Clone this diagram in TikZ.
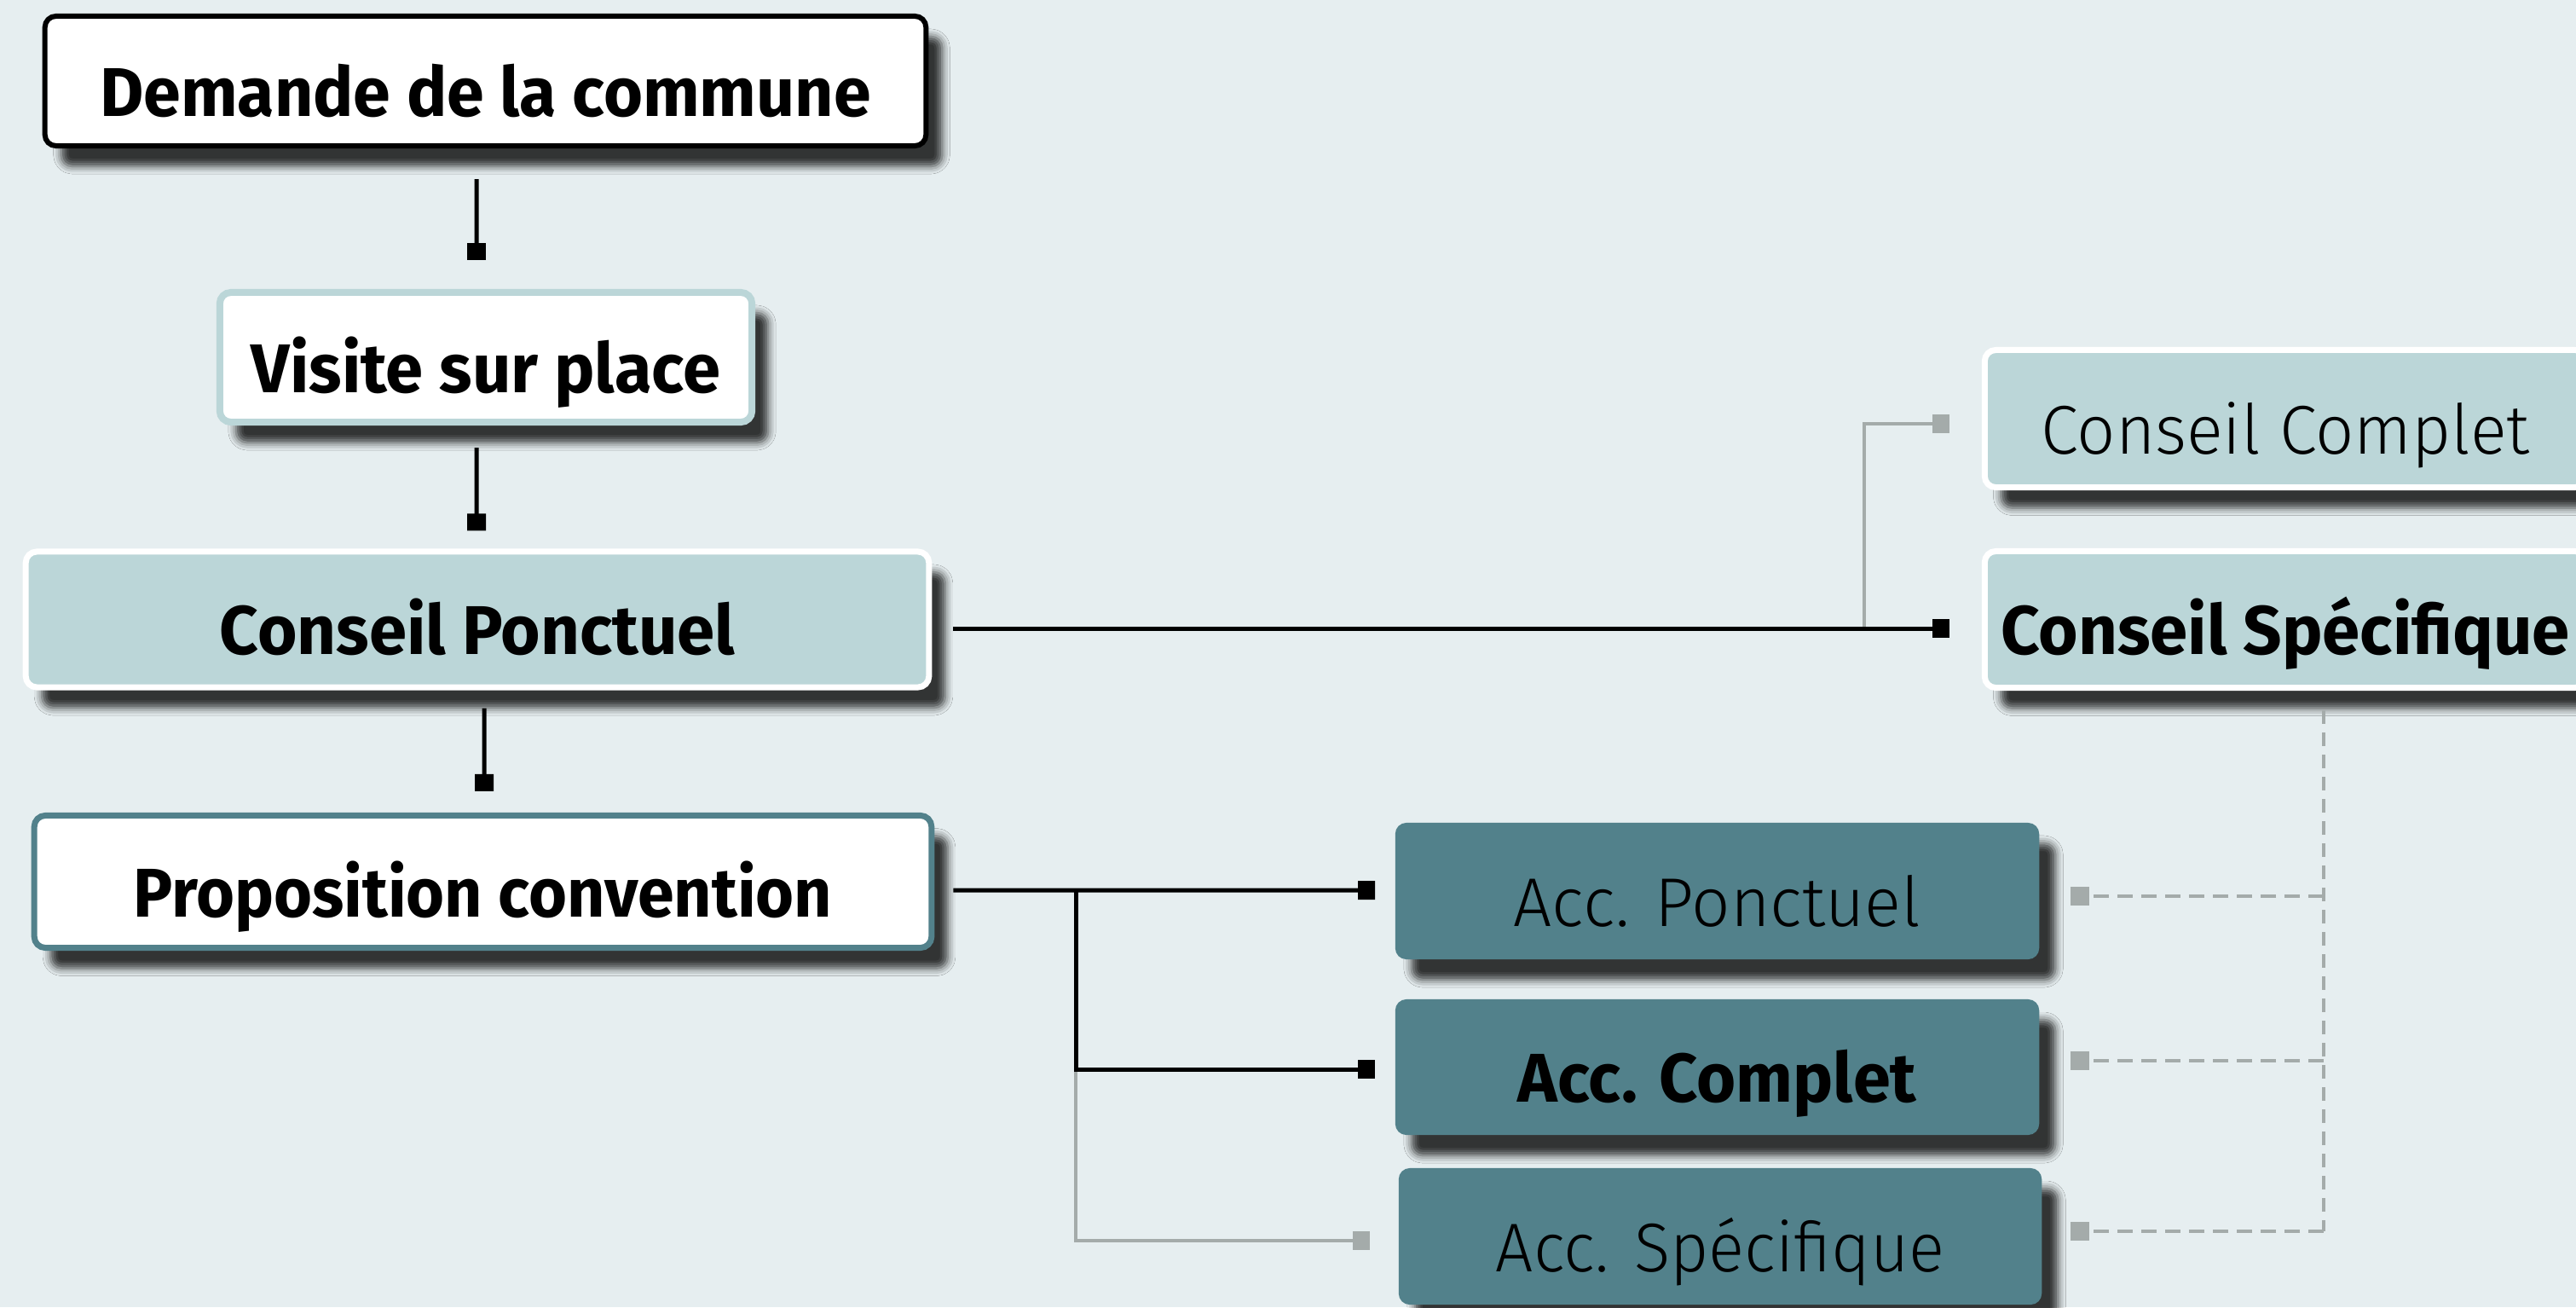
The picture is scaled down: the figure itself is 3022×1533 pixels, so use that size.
\documentclass[tikz,border=0pt]{standalone}
\usepackage{fontspec}
\usepackage{graphicx}
\setmainfont{Fira Sans}
\newfontfamily\thinfont{Fira Sans Light}
\usetikzlibrary{arrows.meta,shadows.blur}
\definecolor{bg}{HTML}{E6EEF0}
\definecolor{lteal}{HTML}{BBD6D8}
\definecolor{dteal}{HTML}{52818B}
\definecolor{lgrey}{HTML}{A4ABAA}
\newcommand{\fitw}[2]{\resizebox{#1}{\height}{#2}}
\begin{document}
\begin{tikzpicture}[x=0.01cm,y=-0.01cm,
  box/.style={rectangle, rounded corners=0.13cm, inner sep=0pt,
    text height=0.82cm, text depth=0cm,
    font=\fontsize{23pt}{27pt}\selectfont,
    blur shadow={shadow xshift=0.19cm, shadow yshift=-0.24cm, shadow blur radius=0.09cm, shadow opacity=78}},
  boldtxt/.style={font=\fontsize{23pt}{27pt}\selectfont\bfseries},
  thintxt/.style={font=\fontsize{23pt}{27pt}\selectfont\thinfont},
  conn/.style={line width=0.05cm, -{Square[length=0.2cm,width=0.22cm]}},
  gconn/.style={lgrey, line width=0.04cm, -{Square[length=0.2cm,width=0.22cm]}},
  dconn/.style={lgrey, line width=0.045cm, dash pattern=on 0.18cm off 0.1cm, -{Square[length=0.22cm,width=0.22cm]}},
  dline/.style={lgrey, line width=0.04cm, dash pattern=on 0.16cm off 0.1cm}
]
\useasboundingbox (0,0) rectangle (3022,1533);
\fill[bg] (0,0) rectangle (3022,1533);

% left column
\node[box, boldtxt, draw=black, line width=0.06cm, fill=white,
  minimum width=10.33cm, minimum height=1.52cm] (demande) at (569.5,95)
  {\fitw{9.04cm}{Demande de la commune}};
\node[box, boldtxt, draw=lteal, line width=0.08cm, fill=white,
  minimum width=6.24cm, minimum height=1.52cm] (visite) at (570,419)
  {\fitw{5.50cm}{Visite sur place}};
\node[box, boldtxt, draw=white, line width=0.07cm, fill=lteal,
  minimum width=10.59cm, minimum height=1.59cm] (cp) at (560,726.5)
  {\fitw{6.04cm}{Conseil Ponctuel}};
\node[box, boldtxt, draw=dteal, line width=0.07cm, fill=white,
  minimum width=10.52cm, minimum height=1.55cm] (prop) at (566.5,1034)
  {\fitw{8.19cm}{Proposition convention}};

% right column
\node[box, thintxt, draw=white, line width=0.07cm, fill=lteal,
  minimum width=7.05cm, minimum height=1.61cm] (cc) at (2681,491)
  {\fitw{5.73cm}{Conseil Complet}};
\node[box, boldtxt, draw=white, line width=0.07cm, fill=lteal,
  minimum width=7.05cm, minimum height=1.60cm] (cs) at (2681,726.5)
  {\fitw{6.67cm}{Conseil Spécifique}};

% accompaniment boxes
\node[box, thintxt, fill=dteal, minimum width=7.55cm, minimum height=1.60cm]
  (ap) at (2014.5,1045) {\fitw{4.77cm}{Acc. Ponctuel}};
\node[box, boldtxt, fill=dteal, minimum width=7.55cm, minimum height=1.59cm]
  (ac) at (2014.5,1251.5) {\fitw{4.67cm}{Acc. Complet}};
\node[box, thintxt, fill=dteal, minimum width=7.54cm, minimum height=1.60cm]
  (as) at (2018,1450) {\fitw{5.26cm}{Acc. Spécifique}};

% vertical connectors
\draw[conn] ([xshift=-0.105cm,yshift=-0.36cm]demande.south) -- ([xshift=-0.11cm,yshift=0.34cm]visite.north);
\draw[conn] ([xshift=-0.11cm,yshift=-0.26cm]visite.south) -- ([xshift=-0.01cm,yshift=0.21cm]cp.north);
\draw[conn] ([xshift=0.08cm,yshift=-0.21cm]cp.south) -- ([xshift=0.015cm,yshift=0.25cm]prop.north);

% Conseil Ponctuel -> Conseil Specifique / Complet
\coordinate (j1) at (2187,737);
\draw[gconn] (j1) |- ([xshift=-0.38cm,yshift=-0.06cm]cc.west);
\draw[conn] ([xshift=0.25cm,yshift=-0.105cm]cp.east) -- ([xshift=-0.38cm,yshift=-0.105cm]cs.west);

% Proposition -> Acc.
\coordinate (j2) at (1262,1044);
\coordinate (j3) at (1262,1254);
\draw[gconn] (j3) |- ([xshift=-0.33cm,yshift=-0.05cm]as.west);
\draw[conn] (j2) |- ([xshift=-0.23cm,yshift=-0.025cm]ac.west);
\draw[conn] ([xshift=0.22cm,yshift=-0.1cm]prop.east) -- ([xshift=-0.23cm,yshift=0.01cm]ap.west);

% dashed links from Conseil Specifique
\coordinate (d0) at ([xshift=0.45cm,yshift=-0.23cm]cs.south);
\coordinate (apE) at ([xshift=0.36cm,yshift=-0.06cm]ap.east);
\coordinate (acE) at ([xshift=0.36cm,yshift=0.075cm]ac.east);
\coordinate (asE) at ([xshift=0.33cm,yshift=0.06cm]as.east);
\draw[dline] (d0) -- (d0 |- asE);
\draw[dconn] (d0 |- apE) -- (apE);
\draw[dconn] (d0 |- acE) -- (acE);
\draw[dconn] (d0 |- asE) -- (asE);
\end{tikzpicture}
\end{document}
